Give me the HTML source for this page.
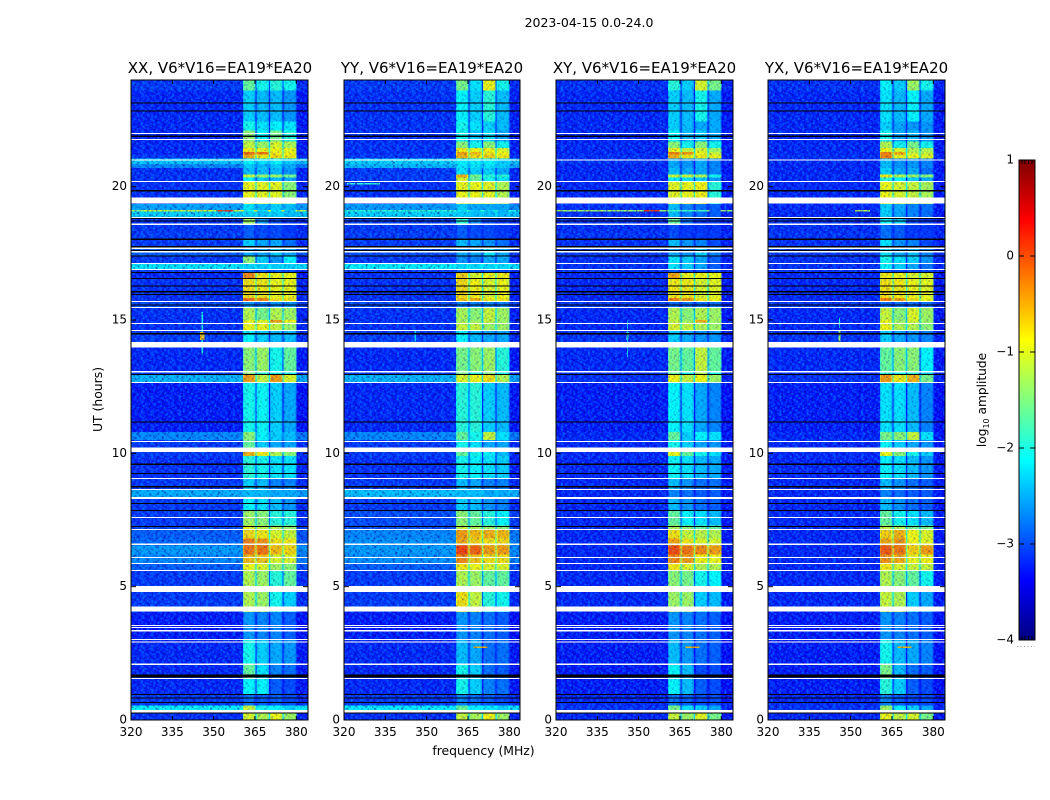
<!DOCTYPE html>
<html>
<head>
<meta charset="utf-8">
<title>2023-04-15 0.0-24.0</title>
<style>
html,body{margin:0;padding:0;background:#fff;}
svg{display:block;}
text{font-family:"DejaVu Sans","Liberation Sans",sans-serif;fill:#000;}
</style>
</head>
<body>
<svg id="figure" xmlns="http://www.w3.org/2000/svg" width="1050" height="800" viewBox="0 0 1050 800">
  <defs id="defs"></defs>
  <rect width="1050" height="800" fill="#fff"/>
  <text x="589" y="27" font-size="12.5" text-anchor="middle">2023-04-15 0.0-24.0</text>
  <text x="483.5" y="755" font-size="12.4" text-anchor="middle">frequency (MHz)</text>
  <text transform="translate(102,399.5) rotate(-90)" font-size="12.4" text-anchor="middle">UT (hours)</text>
  <text transform="translate(986,400) rotate(-90)" font-size="12.2" text-anchor="middle">log<tspan dy="3" font-size="8">10</tspan><tspan dy="-3"> amplitude</tspan></text>
  <g id="panels"></g>
  <g id="colorbar"></g>
</svg>
<script>
// ---------- chart data ----------
const panelTitles = ["XX, V6*V16=EA19*EA20", "YY, V6*V16=EA19*EA20", "XY, V6*V16=EA19*EA20", "YX, V6*V16=EA19*EA20"];
const freqTicks = [320, 335, 350, 365, 380];
const hourTicks = [0, 5, 10, 15, 20];
const colorTicks = [1, 0, -1, -2, -3, -4];
// frequency edges (MHz) of the four bright sub-bands
const bandEdges = [[360.7, 365.1], [365.6, 370], [370.5, 375], [375.4, 380.1]];
// upper hour of each time block; the block ends at the next value
const rowTops = [24,23.6,22.45,22.1,21.7,21.45,21.3,21.2,21.05,20.85,20.7,20.45,20.35,20.2,19.6,19.35,19.13,19.06,18.85,18.6,18.05,17.75,17.7,17.4,17.12,16.9,16.78,16.55,15.82,15.69,15.47,15,14.9,14.6,14.2,13.96,13.06,12.96,12.66,10.8,10.5,10.05,9.9,9.06,8.64,8.36,7.86,7.3,7.15,6.8,6.55,6.2,5.87,5.6,5.05,4.8,4.26,4.05,3,2.1,1.7,1.56,0.95,0.55,0.37,0.28];
// log10 amplitude per block: [off-band, band1, band2, band3, band4]
const levelsXX = [
[-3.0,-1.7,-1.9,-1.8,-1.9],[-3.1,-2.2,-2.3,-2.3,-2.5],[-3.1,-1.9,-2.1,-2.0,-2.1],[-3.1,-1.5,-2.0,-1.6,-1.8],[-3.1,-1.2,-1.4,-1.1,-1.3],
[-3.1,-0.9,-1.0,-0.95,-1.0],[-3.1,-0.25,-0.3,-0.9,-0.95],[-3.0,-0.6,-0.9,-0.8,-0.9],[-2.35,-2.0,-2.1,-2.0,-2.2],[-2.7,-2.2,-2.3,-2.2,-2.4],
[-3.05,-2.3,-2.3,-2.3,-2.5],[-3.05,-1.2,-1.4,-1.4,-1.6],[-3.05,-2.0,-2.2,-2.3,-2.4],[-3.05,-1.0,-1.05,-1.05,-1.5],[-3.05,-1.0,-1.05,-1.05,-1.5],
[-2.55,-2.1,-2.3,-2.2,-2.3],[-1.1,-1.9,-2.1,-2.1,-2.2],[-2.3,-2.2,-2.3,-2.2,-2.3],[-3.05,-1.4,-2.5,-2.9,-3.0],[-3.0,-2.8,-2.9,-2.9,-3.0],
[-3.0,-2.2,-2.4,-2.4,-2.7],[-1.6,-2.0,-2.0,-2.2,-2.3],[-2.8,-2.4,-2.4,-2.2,-2.4],[-3.0,-1.5,-2.2,-2.5,-2.0],[-2.2,-2.2,-2.2,-2.2,-2.2],
[-3.0,-2.7,-2.8,-2.8,-2.9],[-3.1,-0.4,-0.9,-1.0,-1.0],[-3.05,-0.85,-0.9,-1.0,-1.0],[-3.05,-0.25,-0.4,-0.85,-0.85],[-2.9,-2.5,-2.6,-2.5,-2.5],
[-3.05,-1.3,-1.6,-1.3,-1.4],[-3.05,-1.0,-1.1,-0.5,-0.95],[-3.05,-1.0,-1.0,-1.2,-1.4],[-3.0,-2.0,-2.2,-2.3,-2.3],[-3.0,-2.0,-2.2,-2.3,-2.3],
[-3.1,-1.5,-1.4,-1.9,-1.7],[-3.0,-1.5,-1.8,-1.9,-1.9],[-2.45,-0.5,-1.2,-0.5,-1.1],[-3.15,-1.9,-1.95,-2.2,-2.4],[-2.7,-1.5,-2.0,-2.2,-2.3],
[-3.0,-1.7,-2.2,-2.4,-2.4],[-3.0,-0.6,-0.9,-1.3,-1.5],[-3.05,-1.8,-1.9,-2.1,-2.1],[-3.0,-2.2,-2.3,-2.6,-2.6],[-2.5,-2.3,-2.3,-2.4,-2.4],
[-3.0,-2.0,-2.1,-2.3,-2.5],[-3.0,-1.4,-1.5,-1.8,-1.8],[-2.95,-1.0,-1.2,-1.3,-1.4],[-2.8,-0.8,-0.9,-1.1,-1.2],[-2.75,-0.35,-0.45,-0.85,-0.9],
[-2.6,-0.3,-0.3,-0.65,-0.8],[-2.7,-0.65,-0.7,-1.1,-1.1],[-2.8,-1.0,-1.1,-1.4,-1.5],[-3.0,-1.3,-1.4,-1.8,-1.7],[-3.0,-1.3,-1.4,-1.8,-1.7],
[-3.0,-1.3,-1.4,-1.9,-2.2],[-3.0,-1.3,-1.4,-1.9,-2.2],[-3.15,-2.5,-2.6,-2.6,-2.8],[-3.1,-1.9,-2.2,-2.4,-2.5],[-3.1,-1.7,-2.1,-2.6,-2.7],
[-3.1,-1.7,-2.1,-2.6,-2.7],[-3.1,-2.0,-2.0,-2.8,-2.9],[-3.0,-2.7,-2.8,-2.8,-2.9],[-2.1,-1.2,-1.9,-2.0,-2.2],[-2.1,-1.2,-1.9,-2.0,-2.2],[-3.05,-1.1,-1.3,-1.0,-1.4]];
const levelsYY = [
[-3.0,-1.6,-2.1,-1.0,-1.9],[-3.05,-2.0,-2.2,-1.8,-2.3],[-3.05,-1.9,-2.1,-2.2,-2.3],[-3.05,-1.9,-2.2,-2.1,-2.4],[-3.05,-1.5,-1.9,-1.5,-1.9],
[-3.05,-0.9,-1.0,-0.95,-1.1],[-3.05,-0.55,-0.65,-0.9,-1.0],[-3.0,-0.6,-0.8,-0.75,-0.9],[-2.3,-2.0,-2.0,-2.0,-2.2],[-2.45,-2.1,-2.1,-2.1,-2.2],
[-3.0,-2.1,-2.2,-2.2,-2.4],[-3.0,-0.6,-1.6,-1.8,-1.8],[-3.0,-1.1,-1.7,-1.9,-2.1],[-3.05,-1.0,-1.0,-1.05,-1.3],[-3.05,-1.0,-1.0,-1.05,-1.3],
[-2.6,-2.2,-2.4,-2.4,-2.4],[-1.9,-2.1,-2.2,-2.2,-2.3],[-2.3,-2.2,-2.3,-2.3,-2.35],[-3.0,-1.8,-2.6,-2.9,-3.0],[-3.0,-2.8,-2.9,-2.9,-3.0],
[-3.0,-2.3,-2.4,-2.5,-2.7],[-1.8,-2.1,-2.1,-2.2,-2.3],[-2.9,-2.4,-2.4,-2.1,-2.4],[-3.0,-2.5,-2.6,-2.4,-2.4],[-2.15,-2.15,-2.15,-2.15,-2.15],
[-3.0,-2.8,-2.8,-2.8,-2.9],[-3.05,-0.75,-1.1,-1.0,-0.9],[-3.05,-0.8,-0.95,-1.1,-1.0],[-3.05,-0.7,-0.6,-0.9,-0.9],[-2.9,-2.6,-2.6,-2.6,-2.6],
[-3.05,-1.35,-1.5,-1.2,-1.4],[-3.05,-1.35,-1.4,-1.2,-1.4],[-3.05,-1.2,-1.2,-1.4,-1.4],[-3.0,-2.0,-2.3,-2.4,-2.4],[-3.0,-2.0,-2.3,-2.4,-2.4],
[-3.1,-1.6,-1.5,-1.4,-1.8],[-3.0,-1.6,-1.8,-1.5,-1.9],[-2.45,-1.1,-1.0,-0.85,-1.3],[-3.1,-1.8,-1.8,-2.2,-2.3],[-2.7,-1.7,-1.9,-1.2,-2.1],
[-3.0,-1.9,-2.1,-2.4,-2.4],[-3.0,-1.7,-1.9,-2.0,-2.3],[-3.05,-1.9,-2.0,-2.1,-2.2],[-3.0,-2.3,-2.4,-2.6,-2.6],[-2.4,-2.3,-2.3,-2.4,-2.4],
[-3.0,-2.2,-2.3,-2.5,-2.6],[-2.9,-1.5,-1.7,-1.8,-2.0],[-2.9,-1.2,-1.3,-1.4,-1.5],[-2.7,-0.5,-0.65,-0.6,-0.65],[-2.65,-0.55,-0.75,-0.85,-0.8],
[-2.6,-0.05,-0.2,-0.5,-0.5],[-2.65,-0.4,-0.7,-0.85,-0.85],[-2.8,-0.9,-1.0,-1.1,-1.1],[-3.0,-1.3,-1.4,-1.7,-1.7],[-3.0,-1.3,-1.4,-1.7,-1.7],
[-3.0,-0.85,-1.2,-1.8,-1.9],[-3.0,-0.85,-1.2,-1.8,-1.9],[-3.15,-2.5,-2.6,-2.7,-2.8],[-3.1,-2.3,-2.4,-2.7,-2.7],[-3.1,-1.9,-2.2,-2.7,-2.8],
[-3.1,-1.9,-2.2,-2.7,-2.8],[-3.1,-1.9,-2.2,-2.6,-2.7],[-3.0,-2.6,-2.7,-2.8,-2.9],[-2.15,-1.7,-2.0,-2.1,-2.2],[-2.15,-1.7,-2.0,-2.1,-2.2],[-3.05,-1.2,-1.35,-0.95,-1.4]];
const levelsXY = [
[-3.05,-1.8,-2.2,-1.1,-1.6],[-3.1,-2.2,-2.3,-1.9,-2.4],[-3.1,-2.2,-2.3,-2.4,-2.4],[-3.1,-2.0,-2.3,-2.2,-2.4],[-3.1,-1.5,-1.9,-1.5,-1.9],
[-3.1,-1.0,-1.2,-1.1,-1.4],[-3.1,-0.35,-0.45,-1.0,-1.2],[-3.05,-0.6,-0.9,-0.9,-1.0],[-3.05,-2.4,-2.5,-2.4,-2.6],[-3.1,-2.4,-2.5,-2.4,-2.6],
[-3.1,-2.3,-2.4,-2.4,-2.6],[-3.1,-1.2,-1.2,-1.3,-1.9],[-3.1,-2.0,-2.1,-2.2,-2.5],[-3.1,-1.05,-1.0,-0.95,-1.8],[-3.1,-1.05,-1.0,-0.95,-1.8],
[-3.05,-2.3,-2.6,-2.7,-2.8],[-1.3,-2.2,-2.6,-2.6,-2.8],[-3.05,-2.3,-2.6,-2.7,-2.8],[-3.05,-1.7,-2.7,-3.0,-3.0],[-3.05,-2.9,-3.0,-3.0,-3.0],
[-3.05,-2.3,-2.5,-2.6,-2.9],[-1.8,-2.0,-2.0,-2.2,-2.3],[-3.0,-2.4,-2.5,-2.2,-2.6],[-3.05,-2.1,-2.2,-2.4,-2.8],[-3.05,-2.1,-2.2,-2.4,-2.8],
[-3.05,-2.8,-2.9,-2.9,-2.9],[-3.1,-0.55,-1.0,-1.0,-1.0],[-3.1,-0.9,-0.9,-1.1,-1.05],[-3.1,-0.35,-0.45,-0.9,-1.0],[-3.0,-2.7,-2.7,-2.7,-2.7],
[-3.1,-1.3,-1.5,-1.3,-1.4],[-3.1,-1.2,-1.4,-0.6,-1.4],[-3.1,-1.1,-1.2,-1.3,-1.4],[-3.05,-2.2,-2.4,-2.5,-2.5],[-3.05,-2.2,-2.4,-2.5,-2.5],
[-3.1,-1.6,-1.7,-1.2,-1.7],[-3.05,-1.7,-1.9,-1.3,-1.9],[-3.05,-1.0,-1.2,-1.0,-1.4],[-3.15,-2.0,-2.1,-2.4,-2.6],[-3.1,-1.7,-2.2,-2.0,-2.1],
[-3.1,-1.9,-2.2,-2.4,-2.5],[-3.1,-1.0,-1.7,-1.9,-2.1],[-3.1,-1.95,-2.1,-2.3,-2.4],[-3.1,-2.3,-2.5,-2.7,-2.7],[-3.1,-2.6,-2.7,-2.8,-2.8],
[-3.1,-2.3,-2.5,-2.7,-2.8],[-3.1,-1.7,-2.0,-2.1,-2.3],[-3.1,-1.3,-1.5,-1.7,-1.7],[-3.1,-0.85,-1.2,-1.25,-1.3],[-3.1,-0.55,-0.9,-1.1,-1.1],
[-3.1,-0.1,-0.3,-0.4,-0.5],[-3.1,-0.4,-0.5,-0.95,-1.0],[-3.1,-0.9,-1.1,-1.3,-1.3],[-3.1,-1.5,-1.6,-1.9,-2.0],[-3.1,-1.5,-1.6,-1.9,-2.0],
[-3.1,-1.4,-1.4,-2.2,-2.3],[-3.1,-1.4,-1.4,-2.2,-2.3],[-3.15,-2.5,-2.6,-2.7,-2.8],[-3.15,-2.3,-2.5,-2.7,-2.8],[-3.15,-2.0,-2.3,-2.9,-2.9],
[-3.15,-2.0,-2.3,-2.9,-2.9],[-3.15,-2.0,-2.3,-2.8,-2.9],[-3.1,-2.7,-2.8,-2.9,-2.9],[-3.05,-1.6,-2.1,-2.2,-2.4],[-3.05,-1.6,-2.1,-2.2,-2.4],[-3.1,-1.2,-1.4,-1.05,-1.6]];
const levelsYX = [
[-3.05,-2.0,-2.2,-1.4,-1.9],[-3.1,-2.1,-2.3,-2.0,-2.4],[-3.1,-2.2,-2.4,-2.5,-2.5],[-3.1,-1.9,-2.4,-2.3,-2.5],[-3.1,-1.3,-1.9,-1.6,-1.9],
[-3.1,-1.0,-1.1,-1.3,-1.3],[-3.1,-0.35,-0.55,-1.2,-1.2],[-3.05,-0.35,-0.95,-1.0,-1.05],[-3.1,-2.3,-2.5,-2.5,-2.6],[-3.1,-2.3,-2.5,-2.5,-2.6],
[-3.1,-2.2,-2.4,-2.4,-2.7],[-3.1,-0.9,-1.3,-1.4,-1.5],[-3.1,-1.8,-2.0,-2.2,-2.4],[-3.1,-1.0,-1.1,-1.2,-1.35],[-3.1,-1.0,-1.1,-1.2,-1.35],
[-3.1,-2.2,-2.4,-2.6,-2.7],[-3.05,-2.2,-2.4,-2.6,-2.7],[-3.1,-2.2,-2.4,-2.6,-2.7],[-3.05,-2.0,-2.2,-2.9,-3.0],[-3.05,-2.7,-2.8,-3.0,-3.0],
[-3.05,-2.1,-2.5,-2.6,-2.9],[-1.4,-2.0,-2.0,-2.2,-2.3],[-3.0,-2.1,-2.4,-2.3,-2.6],[-3.05,-1.9,-2.1,-2.2,-2.5],[-3.05,-2.0,-2.2,-2.4,-2.7],
[-3.05,-2.8,-2.9,-2.9,-2.9],[-3.1,-0.9,-1.0,-1.1,-1.1],[-3.1,-0.85,-0.9,-1.0,-1.05],[-3.1,-0.35,-0.5,-0.85,-1.0],[-3.0,-2.7,-2.7,-2.7,-2.7],
[-3.1,-1.2,-1.5,-1.1,-1.4],[-3.1,-1.0,-1.4,-1.1,-1.4],[-3.1,-1.0,-1.3,-1.3,-1.5],[-3.05,-2.2,-2.4,-2.5,-2.6],[-3.05,-2.2,-2.4,-2.5,-2.6],
[-3.1,-1.7,-1.5,-1.5,-2.0],[-3.05,-1.8,-1.9,-1.8,-2.2],[-3.05,-0.5,-0.9,-0.6,-1.6],[-3.15,-2.1,-2.1,-2.3,-2.6],[-3.1,-1.6,-1.5,-1.2,-2.1],
[-3.1,-2.0,-2.2,-2.4,-2.5],[-3.1,-1.0,-1.5,-1.9,-2.2],[-3.1,-2.0,-2.1,-2.3,-2.5],[-3.1,-2.3,-2.5,-2.7,-2.8],[-3.1,-2.6,-2.7,-2.8,-2.8],
[-3.1,-2.3,-2.5,-2.7,-2.8],[-3.1,-1.7,-1.9,-2.1,-2.3],[-3.1,-1.2,-1.3,-1.6,-1.6],[-3.1,-0.75,-0.6,-1.0,-1.1],[-3.1,-0.55,-0.45,-0.95,-1.05],
[-3.1,-0.15,-0.3,-0.75,-0.5],[-3.1,-0.45,-0.6,-1.0,-0.95],[-3.1,-0.9,-1.1,-1.2,-1.2],[-3.1,-1.3,-1.5,-1.7,-1.9],[-3.1,-1.3,-1.5,-1.7,-1.9],
[-3.1,-1.2,-1.3,-2.2,-2.4],[-3.1,-1.2,-1.3,-2.2,-2.4],[-3.15,-2.5,-2.6,-2.7,-2.8],[-3.15,-1.9,-2.3,-2.4,-2.6],[-3.15,-1.6,-2.3,-2.7,-2.8],
[-3.15,-1.6,-2.3,-2.7,-2.8],[-3.15,-1.8,-2.2,-2.8,-2.9],[-3.1,-2.6,-2.8,-2.9,-2.9],[-3.05,-1.4,-2.0,-2.2,-2.4],[-3.05,-1.4,-2.0,-2.2,-2.4],[-3.1,-1.0,-1.2,-1.1,-1.6]];
const panelLevels = [levelsXX, levelsYY, levelsXY, levelsYX];
// colour calibration applied to the block levels above
const offBandShift = -0.12;
const brightBandShift = 0.1;
const dimBandShift = -0.12;
function calOffBand(v) { return v < -2.7 ? v + offBandShift : v; }
function calBand(v) { return v < -1.7 ? v + dimBandShift : v + brightBandShift; }
// narrow interference features: [panel index, f0, f1, hour top, hour bottom, log10 amp]
const rfiFeatures = [
[0,345.6,346.2,15.3,13.7,-2.0],[0,345.1,346.7,14.55,14.25,-0.6],[0,351.6,357,19.12,19.07,0.1],[0,321,323,19.12,19.07,-1.6],
[1,321,333,20.14,20.09,-1.9],[1,345.5,346.2,14.6,14.2,-2.3],
[2,345.5,346.3,14.55,14.25,-1.6],[2,345.7,346.1,15.0,13.6,-2.3],[2,352,357.5,19.12,19.07,0.15],[2,361,375,19.12,19.07,-1.8],
[3,351.6,357,19.12,19.07,-1.2],[3,345.5,346.3,14.6,14.2,-1.3],[3,345.7,346.1,15.1,14.7,-2.0],[3,350,357,17.74,17.7,0.1],[3,367,372,2.75,2.7,-0.5],
[2,367,372,2.75,2.7,-0.5],[1,367,372,2.75,2.7,-0.5]];
// rows flagged out (white): [hour top, hour bottom]
const flaggedRows = [[22.01,21.97],[21.79,21.75],[21.02,20.98],[20.22,20.18],[19.6,19.36],[18.86,18.82],[18.61,18.57],[17.71,17.67],[17.58,17.54],[17.14,17.1],[16.92,16.88],[15.71,15.67],[15.49,15.45],[14.89,14.85],[14.62,14.58],[14.18,13.96],[13.08,13.04],[12.68,12.64],[10.47,10.43],[10.21,10.05],[9.08,9.04],[8.66,8.62],[8.37,8.28],[7.62,7.58],[7.17,7.13],[6.61,6.57],[6.12,6.08],[5.89,5.85],[5.63,5.59],[5.03,4.8],[4.25,4.06],[3.57,3.53],[3.49,3.45],[3.38,3.32],[3.04,3.0],[2.94,2.9],[2.11,2.07],[1.58,1.54],[0.38,0.29]];
// rows with zero data (black): [hour top, hour bottom]
const blankRows = [[23.15,23.11],[22.85,22.81],[21.92,21.87],[19.87,19.82],[18.83,18.78],[18.74,18.7],[18.05,18.0],[17.77,17.72],[17.63,17.59],[17.42,17.38],[16.8,16.76],[16.57,16.53],[16.29,16.25],[16.08,16.04],[15.98,15.94],[15.58,15.54],[14.52,14.46],[12.98,12.94],[11.2,11.18],[9.61,9.57],[9.27,9.23],[8.78,8.72],[8.14,8.1],[7.88,7.84],[7.28,7.24],[1.7,1.6],[0.97,0.93],[0.85,0.81],[0.67,0.63],[0.28,0.24]];
// hand-typed fine-grain texture tiles: '+' lighter, '-' darker, '.' unchanged
const speckleTileA = [
"+.-..+..-.+.#..+.-.+",
".-+..-.+...-.+..+.-.",
"..#.+..-.+..-..+.#..",
"+..-..+.#..+.-.+..-.",
".+...-.+..-...+.-.+.",
"-..+.#..-.+.+..-...+",
".-.+...+..-..#.+.-..",
"+..-.+.-.+..+.-..+.#",
"..+.#...+.-..-.+..-.",
".-...+.-..+.#...-.+.",
"+.+.-..+.#..-.+...-.",
".#..-.+..-.+..+.-.+."];
const speckleTileB = [
"-..+.#.+..-.+",
".+.-...+.#...",
"..+..-.-..+.-",
"#...+...+.-..",
".-.+..#..-.+.",
"+..-.+..-...#",
"..+.-..+.+.-."];

// ---------- axes ----------
const SVGNS = "http://www.w3.org/2000/svg";
const panelBoxes = [[131, 308], [344, 520], [556, 733], [768, 945]];
const plotTop = 80, plotBottom = 720, hourMax = 24;
const pxPerMHz = 2.755;
function xOf(panel, freq) { return panelBoxes[panel][0] + (freq - 320) * pxPerMHz; }
function yOf(hour) { return plotBottom - hour * (plotBottom - plotTop) / hourMax; }
const cbTop = 160, cbBottom = 640, cbMax = 1, cbMin = -4;
function yOfColor(v) { return cbTop + (cbMax - v) * (cbBottom - cbTop) / (cbMax - cbMin); }
function jet(v) {
  const t = Math.max(0, Math.min(1, (v - cbMin) / (cbMax - cbMin)));
  const ch = c => Math.round(255 * Math.max(0, Math.min(1, 1.5 - Math.abs(4 * t - c))));
  return "rgb(" + ch(3) + "," + ch(2) + "," + ch(1) + ")";
}
function make(tag, attrs) {
  const el = document.createElementNS(SVGNS, tag);
  for (const k in attrs) el.setAttribute(k, attrs[k]);
  return el;
}

// ---------- speckle patterns ----------
const defs = document.getElementById("defs");
function buildPattern(id, tile, cell) {
  const p = make("pattern", { id: id, patternUnits: "userSpaceOnUse", width: tile[0].length * cell, height: tile.length * cell });
  
  
  tile.forEach((line, r) => {
    line.split("").forEach((c, i) => {
      if (c === ".") return;
      const fill = c === "+" ? "#00b0ff" : "#000090";
      const op = c === "+" ? 0.28 : (c === "-" ? 0.22 : 0.42);
      const s = make("rect", { x: i * cell, y: r * cell, width: cell, height: cell, fill: fill, "fill-opacity": op });
      
      
      p.appendChild(s);
    });
  });
  defs.appendChild(p);
}
buildPattern("speckleA", speckleTileA, 1.5);
buildPattern("speckleB", speckleTileB, 2.1);

// ---------- panels ----------
const panelsRoot = document.getElementById("panels");
const panelNames = ["xx", "yy", "xy", "yx"];
panelTitles.forEach((title, p) => {
  const [left, right] = panelBoxes[p];
  const g = make("g", {});
  
  
  panelsRoot.appendChild(g);

  const clip = make("clipPath", { id: "clip" + p });
  clip.appendChild(make("rect", { x: left, y: plotTop, width: right - left, height: plotBottom - plotTop }));
  defs.appendChild(clip);

  const heat = make("g", { "clip-path": "url(#clip" + p + ")", "shape-rendering": "crispEdges" });
  
  
  g.appendChild(heat);

  const freqEnd = 320 + (right - left) / pxPerMHz;
  const levels = panelLevels[p];
  rowTops.forEach((top, r) => {
    const bottom = r + 1 < rowTops.length ? rowTops[r + 1] : 0;
    const y0 = yOf(top), y1 = yOf(bottom);
    const row = levels[r];
    const bg = calOffBand(row[0]);
    const spans = [[320, bandEdges[0][0], bg], [bandEdges[3][1], freqEnd, bg - 0.08]];
    bandEdges.forEach((e, b) => {
      const lv = calBand(row[b + 1]);
      const edge = Math.max(bg, lv - 0.22);
      spans.push([e[0], e[0] + 0.4, edge]);
      spans.push([e[0] + 0.4, e[1] - 0.4, lv]);
      spans.push([e[1] - 0.4, e[1], edge]);
      if (b < 3) {
        spans.push([e[1], bandEdges[b + 1][0], Math.max(bg, Math.min(lv, calBand(row[b + 2])) - 1.0)]);
      }
    });
    spans.forEach(s => {
      const x0 = xOf(p, s[0]), x1 = xOf(p, s[1]);
      const cell = make("rect", { x: x0, y: y0, width: x1 - x0, height: y1 - y0, fill: jet(s[2]) });
      
      
      heat.appendChild(cell);
    });
  });

  rfiFeatures.filter(f => f[0] === p).forEach(f => {
    const x0 = xOf(p, f[1]), x1 = xOf(p, f[2]), y0 = yOf(f[3]), y1 = yOf(f[4]);
    const mark = make("rect", { x: x0, y: y0, width: x1 - x0, height: y1 - y0, fill: jet(f[5]) });
    
    
    heat.appendChild(mark);
  });

  // speckle: full strength off-band, lighter over the sub-bands
  const speckleZones = [[320, bandEdges[0][0], 1], [bandEdges[0][0], bandEdges[3][1], 0.55], [bandEdges[3][1], freqEnd, 1]];
  speckleZones.forEach(z => {
    ["speckleA", "speckleB"].forEach(id => {
      const ov = make("rect", { x: xOf(p, z[0]), y: plotTop, width: xOf(p, z[1]) - xOf(p, z[0]), height: plotBottom - plotTop, fill: "url(#" + id + ")", opacity: z[2] });
      
      
      heat.appendChild(ov);
    });
  });

  blankRows.forEach(b => {
    const y0 = yOf(b[0]), y1 = yOf(b[1]);
    const mark = make("rect", { x: left, y: y0, width: right - left, height: Math.max(1, y1 - y0), fill: "#000" });
    
    
    heat.appendChild(mark);
  });
  flaggedRows.forEach(b => {
    const y0 = yOf(b[0]), y1 = yOf(b[1]);
    const mark = make("rect", { x: left, y: y0, width: right - left, height: Math.max(1, y1 - y0), fill: "#fff" });
    
    
    heat.appendChild(mark);
  });

  const frame = make("rect", { x: left, y: plotTop, width: right - left, height: plotBottom - plotTop, fill: "none", stroke: "#000", "stroke-width": 1 });
  
  
  g.appendChild(frame);

  const t = make("text", { x: (left + right) / 2 + (p === 0 ? 0.5 : 0), y: 73, "font-size": 15, "text-anchor": "middle" });
  t.textContent = title;
  
  
  g.appendChild(t);

  freqTicks.forEach(f => {
    const x = xOf(p, f);
    [[plotBottom, plotBottom - 4], [plotTop, plotTop + 4]].forEach(seg => {
      const tick = make("line", { x1: x, x2: x, y1: seg[0], y2: seg[1], stroke: "#000", "stroke-width": 1 });
      
      
      g.appendChild(tick);
    });
    const lab = make("text", { x: x, y: 736, "font-size": 12, "text-anchor": "middle" });
    lab.textContent = String(f);
    
    
    g.appendChild(lab);
  });
  hourTicks.forEach(h => {
    const y = yOf(h);
    [[left, left + 5], [right, right - 5]].forEach(seg => {
      const tick = make("line", { x1: seg[0], x2: seg[1], y1: y, y2: y, stroke: "#000", "stroke-width": 1 });
      
      
      g.appendChild(tick);
    });
    const lab = make("text", { x: left - 4, y: y + 3.5, "font-size": 12, "text-anchor": "end" });
    lab.textContent = String(h);
    
    
    g.appendChild(lab);
  });
});

// ---------- colorbar ----------
const cb = document.getElementById("colorbar");
const grad = make("linearGradient", { id: "jetGrad", x1: 0, y1: 0, x2: 0, y2: 1 });
for (let i = 0; i <= 32; i++) {
  const stop = make("stop", { offset: i / 32, "stop-color": jet(cbMax - (cbMax - cbMin) * i / 32) });
  grad.appendChild(stop);
}
defs.appendChild(grad);
const cbRect = make("rect", { x: 1019, y: cbTop, width: 16, height: cbBottom - cbTop, fill: "url(#jetGrad)", stroke: "#000", "stroke-width": 1 });


cb.appendChild(cbRect);
colorTicks.forEach(v => {
  const y = yOfColor(v);
  [[1019, 1024], [1035, 1030]].forEach(seg => {
    const tick = make("line", { x1: seg[0], x2: seg[1], y1: y, y2: y, stroke: "#000", "stroke-width": 1 });
    
    
    cb.appendChild(tick);
  });
  const lab = make("text", { x: 1014, y: y + 3.5, "font-size": 12, "text-anchor": "end" });
  lab.textContent = v < 0 ? "\u2212" + Math.abs(v) : String(v);
  
  
  cb.appendChild(lab);
});
[1022, 1025, 1028.5, 1032].forEach(x => {
  [[cbTop, cbTop + 4], [cbBottom, cbBottom - 4]].forEach(seg => {
    const tick = make("line", { x1: x, x2: x, y1: seg[0], y2: seg[1], stroke: "#000", "stroke-width": 1 });
    
    
    cb.appendChild(tick);
  });
});
const dots = make("line", { x1: 1017, x2: 1035, y1: 646.5, y2: 646.5, stroke: "#999", "stroke-width": 1, "stroke-dasharray": "1 2.5" });


cb.appendChild(dots);
</script>
</body>
</html>
